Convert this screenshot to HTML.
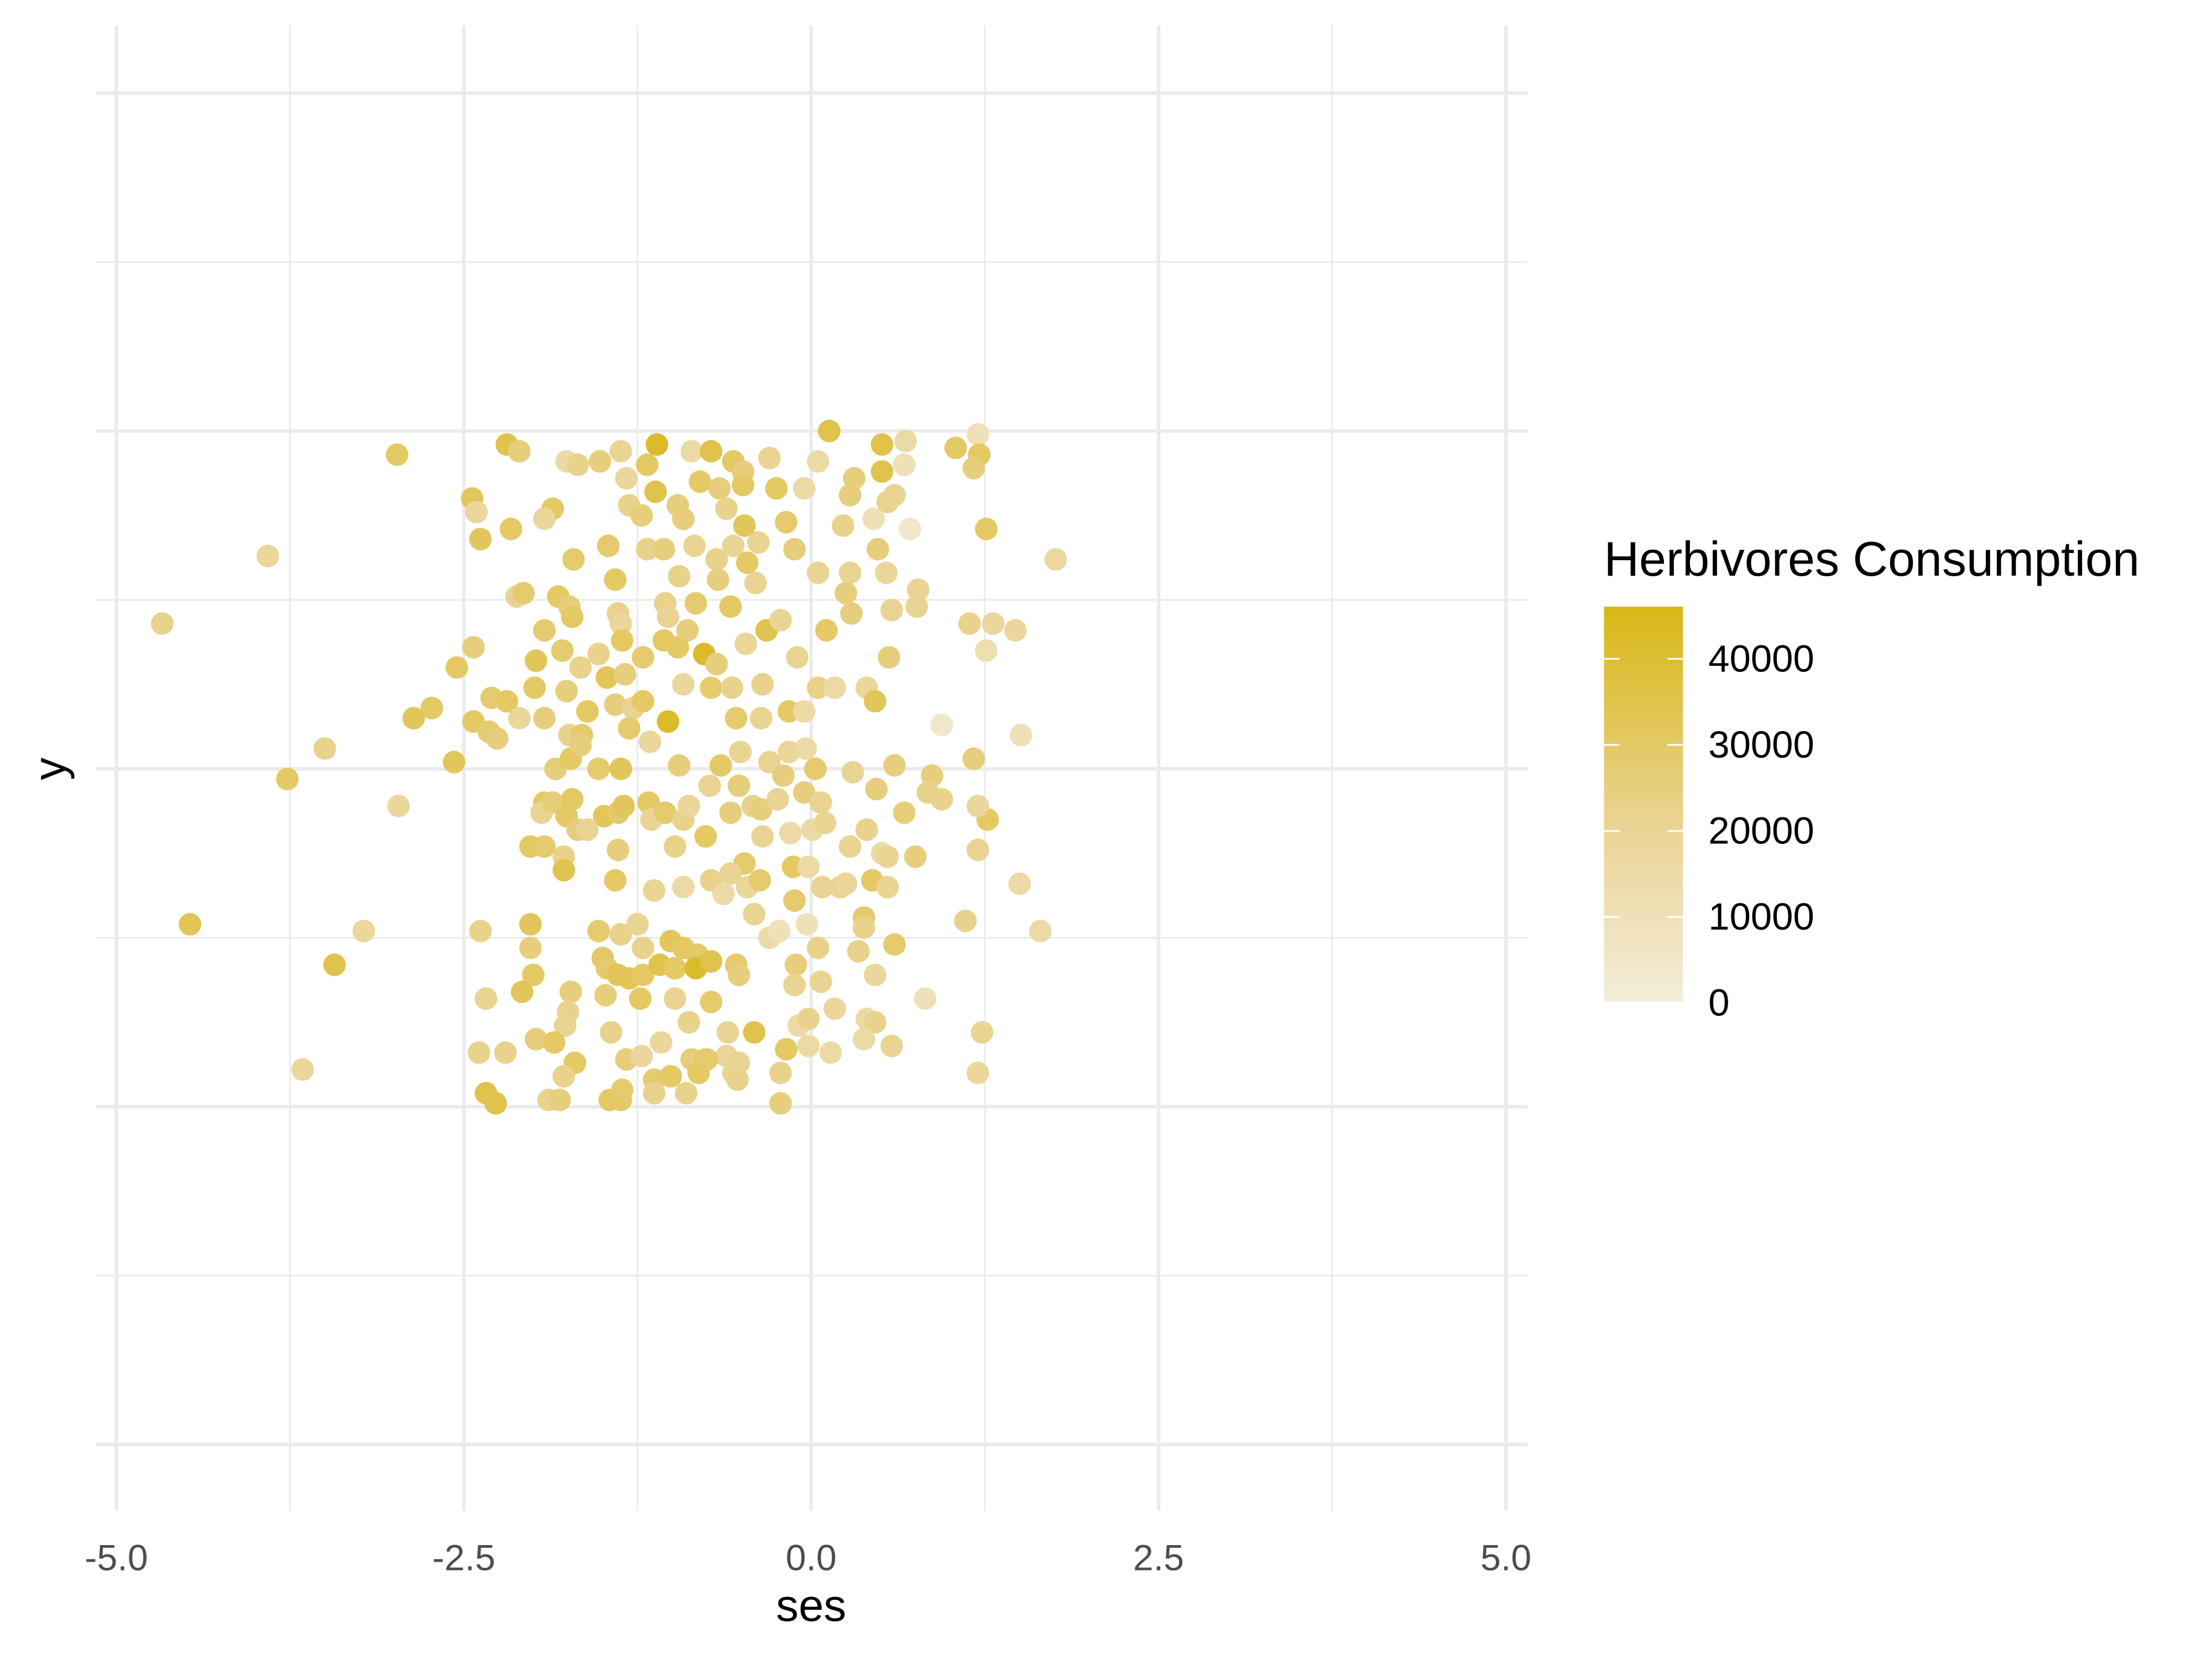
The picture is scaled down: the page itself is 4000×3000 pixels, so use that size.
<!DOCTYPE html>
<html><head><meta charset="utf-8"><style>
html,body{margin:0;padding:0;background:#fff;}
svg{display:block;font-family:"Liberation Sans",Arial,sans-serif;}
</style></head><body>
<svg id="chart" width="4000" height="3000" viewBox="0 0 1568 1176" xmlns="http://www.w3.org/2000/svg">
<defs>
<linearGradient id="lg" x1="0" y1="1" x2="0" y2="0">
<stop offset="0" stop-color="#F3EDDA"/>
<stop offset="0.45" stop-color="#EAD392"/>
<stop offset="1" stop-color="#D9B716"/>
</linearGradient>
</defs>
<rect width="1568" height="1176" fill="#fff"/>
<g id="grid"></g>
<g id="points"></g>
<g id="axes"></g>
<g>
<text x="1137" y="408" font-size="34.5" fill="#000">Herbivores Consumption</text>
<rect x="1137" y="430" width="56" height="280" fill="url(#lg)"/>
<g id="legendTicks"></g>
</g>
<text x="575" y="1149" font-size="32" text-anchor="middle" fill="#000">ses</text>
<text x="0" y="0" font-size="32" text-anchor="middle" fill="#000" transform="translate(46,545) rotate(-90)">y</text>
</svg>
<script>
const xTicks=[-5,-2.5,0,2.5,5];
const xTickLabels=["-5.0","-2.5","0.0","2.5","5.0"];
const xMinor=[-3.75,-1.25,1.25,3.75];
const yMajor=[-2,-1,0,1,2];
const yMinor=[-1.5,-0.5,0.5,1.5];
const legendBreaks=[0,10000,20000,30000,40000];
const legendLabels=["0","10000","20000","30000","40000"];
const colorMax=46000;
const sesX=[-2.98,-3.91,-4.67,-3.50,-3.77,-2.97,-4.47,-3.22,-3.43,-3.66,1.76,1.47,1.51,1.50,1.65,1.20,1.11,1.20,1.23,1.27,1.26,1.21,0.82,0.94,0.13,0.68,
-2.19,-2.10,-1.76,-1.52,-1.37,-1.18,-1.11,-0.86,-0.72,-0.56,-0.49,-0.30,0.05,0.31,0.51,0.51,0.67,1.04,1.17,-1.68,
-2.44,-2.41,-1.86,-1.92,-1.33,-1.31,-1.12,-0.96,-0.80,-0.66,-0.49,-0.25,-0.05,0.28,0.55,0.60,0.45,0.71,0.23,-1.22,-0.92,-0.61,-0.48,-0.18,
-2.38,-2.16,-1.71,-1.46,-1.41,-1.18,-1.06,-0.84,-0.68,-0.56,-0.46,-0.38,-0.12,0.05,0.28,0.48,0.54,0.77,-0.95,-0.67,-0.40,
-2.12,-2.07,-1.82,-1.74,-1.72,-1.92,-1.79,-1.66,-1.53,-1.39,-1.37,-1.36,-1.21,-1.05,-1.03,-1.06,-0.96,-0.77,-0.83,-0.58,-0.47,-0.32,-0.22,-0.10,0.11,0.25,0.29,0.58,0.76,0.56,1.14,1.31,1.26,-2.43,-2.55,-1.98,-0.89,
-2.73,-2.86,-2.30,-2.19,-2.43,-2.32,-2.26,-1.99,-1.92,-2.10,-1.76,-1.61,-1.74,-1.65,-1.47,-1.41,-1.28,-1.21,-1.34,-1.31,-1.03,-0.92,-0.72,-0.57,-0.54,-0.35,-0.36,-0.16,-0.05,0.05,0.17,0.40,0.46,-1.16,-0.51,-0.16,-0.04,-0.68,
-2.57,-1.84,-1.73,-1.66,-1.53,-1.37,-0.95,-0.65,-0.52,-0.30,-0.20,-0.05,0.03,0.30,0.47,0.60,0.87,0.84,0.94,1.17,-1.92,-1.94,-1.86,-1.76,-1.72,-1.49,-1.39,-1.35,-1.17,-1.15,-1.05,-0.92,-0.88,-0.73,-0.58,-0.42,-0.36,-0.24,0.07,0.67,1.20,-1.68,-1.61,-0.76,-0.35,-0.15,0.01,0.10,0.40,
-2.02,-1.92,-1.78,-1.78,-1.39,-0.98,-0.48,-0.13,-0.02,0.28,0.51,0.55,0.75,1.20,-1.41,-1.13,-0.92,-0.72,-0.58,-0.63,-0.46,-0.37,-0.12,0.08,0.21,0.25,0.44,0.55,0.38,0.38,-0.41,-0.30,-0.23,-0.03,
-2.38,-2.02,-2.02,-1.53,-1.37,-1.25,-1.21,-1.01,-0.92,-0.82,-2.00,-2.08,-1.73,-1.50,-1.47,-1.39,-1.31,-1.21,-1.09,-0.98,-0.83,-0.72,-0.54,-0.52,-0.11,0.05,0.34,0.46,0.60,0.07,-0.12,-1.23,-0.98,-0.72,-1.48,
-2.34,-1.75,-1.77,-1.98,-1.85,-1.44,-1.08,-0.88,-0.60,-0.41,-0.09,-0.02,0.17,0.40,0.46,0.38,-2.39,-2.20,-1.70,-1.33,-1.22,-0.86,-0.76,-0.61,-0.52,-0.18,-0.02,0.14,0.58,-1.78,-1.13,-1.01,-0.81,-0.75,-0.56,-0.53,-0.22,-2.34,-2.27,-1.89,-1.81,-1.45,-1.37,-1.13,-0.90,-0.22,-1.36];
const jitterY=[0.93,0.63,0.43,0.06,-0.03,-0.11,-0.46,-0.48,-0.58,-0.89,0.62,0.41,0.10,-0.34,-0.48,0.99,-0.45,-0.90,-0.78,-0.15,0.71,0.93,-0.68,0.13,1.00,0.97,
0.96,0.94,0.91,0.91,0.94,0.90,0.96,0.94,0.94,0.91,0.88,0.92,0.91,0.86,0.96,0.88,0.90,0.95,0.89,0.90,
0.80,0.76,0.77,0.74,0.86,0.78,0.82,0.78,0.85,0.83,0.84,0.83,0.83,0.81,0.79,0.81,0.74,0.71,0.72,0.75,0.74,0.77,0.72,0.73,
0.68,0.71,0.62,0.66,0.56,0.65,0.65,0.66,0.62,0.66,0.61,0.67,0.65,0.58,0.58,0.65,0.58,0.53,0.57,0.56,0.55,
0.51,0.52,0.51,0.48,0.45,0.41,0.35,0.30,0.34,0.46,0.43,0.38,0.33,0.49,0.45,0.38,0.36,0.34,0.49,0.48,0.37,0.41,0.44,0.33,0.41,0.52,0.46,0.47,0.48,0.33,0.43,0.43,0.35,0.36,0.30,0.32,0.41,
0.18,0.15,0.21,0.20,0.14,0.11,0.09,0.24,0.15,0.15,0.23,0.17,0.10,0.10,0.27,0.19,0.18,0.20,0.28,0.12,0.14,0.25,0.24,0.24,0.15,0.25,0.15,0.17,0.17,0.24,0.24,0.24,0.20,0.08,0.05,0.05,0.06,0.31,
0.02,0.00,0.03,0.07,0.00,0.00,0.01,0.01,-0.05,0.02,-0.02,-0.07,0.00,-0.01,-0.06,0.01,-0.02,-0.07,-0.09,0.03,-0.10,-0.13,-0.10,-0.14,-0.09,-0.14,-0.13,-0.11,-0.10,-0.15,-0.13,-0.15,-0.11,-0.05,-0.13,-0.11,-0.12,-0.09,-0.10,-0.13,-0.11,-0.18,-0.18,-0.20,-0.20,-0.19,-0.18,-0.16,-0.18,
-0.23,-0.23,-0.26,-0.30,-0.24,-0.23,-0.28,-0.29,-0.29,-0.23,-0.25,-0.26,-0.26,-0.24,-0.33,-0.36,-0.35,-0.33,-0.31,-0.37,-0.35,-0.33,-0.39,-0.35,-0.35,-0.34,-0.33,-0.35,-0.44,-0.47,-0.43,-0.50,-0.48,-0.46,
-0.48,-0.46,-0.53,-0.48,-0.49,-0.46,-0.53,-0.51,-0.53,-0.55,-0.61,-0.66,-0.66,-0.56,-0.59,-0.61,-0.62,-0.61,-0.58,-0.59,-0.59,-0.57,-0.58,-0.61,-0.58,-0.53,-0.54,-0.61,-0.52,-0.63,-0.64,-0.68,-0.68,-0.69,-0.67,
-0.68,-0.72,-0.76,-0.80,-0.81,-0.78,-0.81,-0.75,-0.78,-0.78,-0.76,-0.74,-0.71,-0.74,-0.75,-0.80,-0.84,-0.84,-0.87,-0.86,-0.85,-0.86,-0.86,-0.85,-0.87,-0.83,-0.82,-0.84,-0.82,-0.91,-0.92,-0.91,-0.90,-0.86,-0.90,-0.92,-0.90,-0.96,-0.99,-0.98,-0.98,-0.98,-0.98,-0.96,-0.96,-0.99,-0.95];
const consumptionK=[30,18,22,22,30,18,33,18,35,18,17,18,10,15,15,10,22,18,20,30,30,30,10,5,35,15,
35,25,15,25,20,30,42,15,35,30,25,20,15,25,35,35,10,30,25,22,
32,18,30,18,18,22,35,25,30,25,30,30,15,25,22,20,10,5,22,25,25,22,32,28,
32,30,28,28,30,22,25,20,22,20,30,20,25,20,20,25,18,20,22,25,20,
20,28,30,25,30,28,28,22,22,22,18,30,28,22,20,30,30,42,28,30,18,35,20,20,30,25,25,20,20,25,22,18,12,25,30,32,25,
30,32,28,30,30,28,25,30,25,18,25,30,22,28,33,25,20,30,25,28,42,18,28,22,28,22,20,30,15,22,15,18,32,18,20,18,15,25,
32,25,30,25,28,32,25,30,25,20,25,25,28,20,25,25,25,22,22,25,30,20,25,30,30,32,28,32,30,20,28,22,18,20,25,22,25,20,20,25,18,25,20,30,20,15,15,20,22,
30,28,22,35,25,22,28,30,15,20,15,20,25,20,30,20,15,22,20,15,18,28,28,20,20,18,30,20,28,22,20,15,10,10,
22,32,25,28,22,20,22,32,30,30,30,32,25,30,28,32,33,30,35,30,42,35,28,25,25,22,22,18,28,20,20,30,20,28,25,
20,22,20,25,30,22,18,22,20,35,15,22,18,15,22,15,22,22,30,25,18,25,30,18,20,30,15,15,20,22,28,30,30,28,20,22,22,35,35,22,25,30,30,22,22,25,28];

const NS="http://www.w3.org/2000/svg";
const PX0=68,PX1=1083,PY0=18,PY1=1071;
function xScale(v){return 575+v*98.5;}
function yScale(v){return 545-v*239.5;}
function legendY(v){return 711-v*0.0061;}
function lerp(a,b,t){return Math.round(a+(b-a)*t);}
function colorFor(v){
  const t=Math.max(0,Math.min(1,v/colorMax));
  const c0=[243,237,218],c1=[234,211,146],c2=[217,183,22];
  let a,b,u;
  if(t<0.45){a=c0;b=c1;u=t/0.45;}else{a=c1;b=c2;u=(t-0.45)/0.55;}
  return "rgb("+lerp(a[0],b[0],u)+","+lerp(a[1],b[1],u)+","+lerp(a[2],b[2],u)+")";
}
function mk(tag,attrs,parent){const e=document.createElementNS(NS,tag);for(const k in attrs)e.setAttribute(k,attrs[k]);parent.appendChild(e);return e;}
const grid=document.getElementById('grid');
yMinor.forEach(v=>{const l=mk('line',{x1:PX0,x2:PX1,y1:yScale(v),y2:yScale(v),stroke:'#ebebeb','stroke-width':1.2},grid);

});
xMinor.forEach(v=>{const l=mk('line',{x1:xScale(v),x2:xScale(v),y1:PY0,y2:PY1,stroke:'#ebebeb','stroke-width':1.2},grid);

});
yMajor.forEach(v=>{const l=mk('line',{x1:PX0,x2:PX1,y1:yScale(v),y2:yScale(v),stroke:'#ebebeb','stroke-width':2.5},grid);

});
xTicks.forEach(v=>{const l=mk('line',{x1:xScale(v),x2:xScale(v),y1:PY0,y2:PY1,stroke:'#ebebeb','stroke-width':2.5},grid);

});
const axes=document.getElementById('axes');
xTicks.forEach((v,i)=>{const t=mk('text',{x:xScale(v),y:1113,'font-size':26,'text-anchor':'middle',fill:'#4d4d4d'},axes);t.textContent=xTickLabels[i];

});
const pts=document.getElementById('points');
sesX.forEach((x,i)=>{const c=mk('circle',{cx:xScale(x),cy:yScale(jitterY[i]),r:8,fill:colorFor(consumptionK[i]*1000)},pts);

});
const lt=document.getElementById('legendTicks');
legendBreaks.forEach((v,i)=>{const y=legendY(v);
const a=mk('line',{x1:1137,x2:1148,y1:y,y2:y,stroke:'#fff','stroke-width':1.2},lt);


const b=mk('line',{x1:1182,x2:1193,y1:y,y2:y,stroke:'#fff','stroke-width':1.2},lt);


const t=mk('text',{x:1211,y:y+9,'font-size':27,fill:'#000'},lt);t.textContent=legendLabels[i];

});
</script>
</body></html>
